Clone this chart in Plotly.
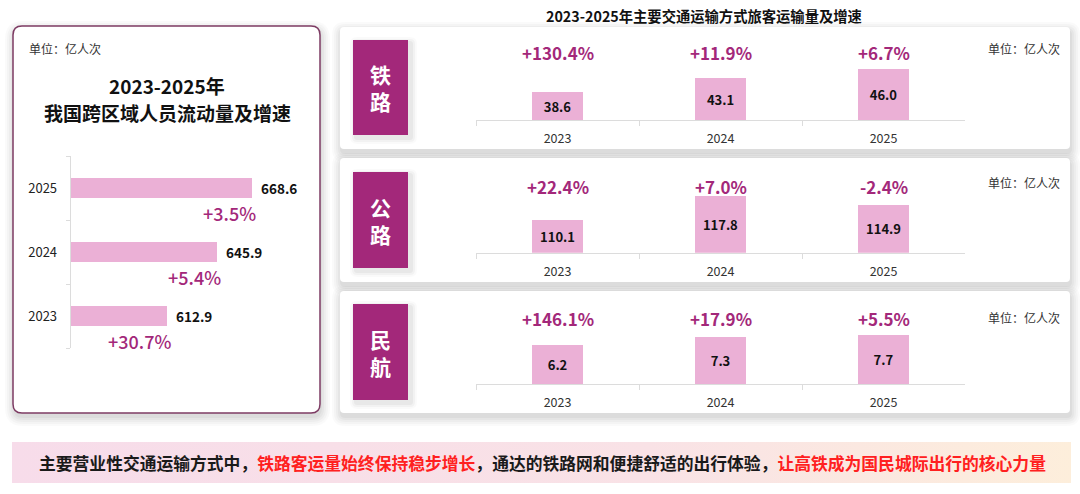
import plotly.graph_objects as go

W, H = 1080, 494
FONT = "Noto Sans CJK SC"

# 左侧：跨区域人员流动量
years = ["2023", "2024", "2025"]
total_flow = [612.9, 645.9, 668.6]
total_growth = ["+30.7%", "+5.4%", "+3.5%"]

# 右侧：主要交通运输方式
modes = ["铁<br>路", "公<br>路", "民<br>航"]
rail_volume = [38.6, 43.1, 46.0]
rail_growth = ["+130.4%", "+11.9%", "+6.7%"]
road_volume = [110.1, 117.8, 114.9]
road_growth = ["+22.4%", "+7.0%", "-2.4%"]
air_volume = [6.2, 7.3, 7.7]
air_growth = ["+146.1%", "+17.9%", "+5.5%"]

unit_text = "单位：亿人次"
left_title = ["2023-2025年", "我国跨区域人员流动量及增速"]
right_title = "<b>2023-2025年主要交通运输方式旅客运输量及增速</b>"
summary = ("<b>主要营业性交通运输方式中，<span style='color:#ff2020'>铁路客运量始终保持稳步增长</span>，"
           "通达的铁路网和便捷舒适的出行体验，<span style='color:#ff2020'>让高铁成为国民城际出行的核心力量</span></b>")

PINK = "#ebb0d6"
MAGENTA = "#a3287a"


def px(x):
    return x / W


def py(y):
    return 1 - y / H


def rrect(x0, y0, x1, y1, r):
    # 像素坐标的圆角矩形 -> paper 路径
    p = lambda x, y: f"{px(x):.5f},{py(y):.5f}"
    return (f"M{p(x0 + r, y0)} L{p(x1 - r, y0)} Q{p(x1, y0)} {p(x1, y0 + r)} "
            f"L{p(x1, y1 - r)} Q{p(x1, y1)} {p(x1 - r, y1)} L{p(x0 + r, y1)} "
            f"Q{p(x0, y1)} {p(x0, y1 - r)} L{p(x0, y0 + r)} Q{p(x0, y0)} {p(x0 + r, y0)} Z")


shapes = []
annotations = []


def card(x0, y0, x1, y1, r, line=None, fill="white"):
    for d, a in [(9, 0.018), (7, 0.022), (5, 0.026), (3, 0.03), (1, 0.035)]:
        shapes.append(dict(type="path", xref="paper", yref="paper", layer="below",
                           path=rrect(x0 - d + 1, y0 - d + 4, x1 + d + 1, y1 + d + 4, r + d),
                           fillcolor=f"rgba(0,0,0,{a})", line=dict(width=0)))
    shapes.append(dict(type="path", xref="paper", yref="paper", layer="below",
                       path=rrect(x0, y0, x1, y1, r), fillcolor=fill,
                       line=dict(color=line or fill, width=1.5 if line else 0)))


fig = go.Figure()

# ---------- 左侧卡片 ----------
card(13, 26, 320, 413, 9, line="#7d3b63")
annotations.append(dict(text=unit_text, x=px(27), y=py(49), xref="paper", yref="paper",
                        xanchor="left", yanchor="middle", showarrow=False,
                        font=dict(size=12, color="#333")))
for line_y, line_text in zip([86, 112], left_title):
    annotations.append(dict(text=f"<b>{line_text}</b>", x=px(167), y=py(line_y),
                            xref="paper", yref="paper", xanchor="center", yanchor="middle",
                            showarrow=False, font=dict(size=19, color="#111")))

fig.add_trace(go.Bar(
    y=years, x=total_flow, orientation="h", width=0.31,
    marker=dict(color=PINK, line=dict(width=0)),
    xaxis="x", yaxis="y", hoverinfo="skip",
))
for i, (v, g) in enumerate(zip(total_flow, total_growth)):
    annotations.append(dict(text=f"<b>{v:.1f}</b>", x=v, y=i, xref="x", yref="y",
                            xanchor="left", yanchor="middle", xshift=7,
                            showarrow=False, font=dict(size=13.5, color="#111")))
    annotations.append(dict(text=g, x=v, y=i, xref="x", yref="y",
                            xanchor="right", yanchor="middle", xshift=6, yshift=-25,
                            showarrow=False, font=dict(size=18, color=MAGENTA, weight=500)))

# ---------- 右侧 ----------
annotations.append(dict(text=right_title, x=px(704), y=py(15), xref="paper", yref="paper",
                        xanchor="center", yanchor="middle", showarrow=False,
                        font=dict(size=14.3, color="#111")))

panels = [
    # 卡片 y0, y1, 标签块 y0, y1, 基线, 轴起点, 每单位像素, 数值, 增速, 增速行 y, 单位行 y
    (27, 149, 40, 135, 120, 29.6, 3.1, rail_volume, rail_growth, 53, 48),
    (158, 282, 172, 268, 252.7, 99.85, 3.19, road_volume, road_growth, 186, 182),
    (291, 413, 304, 400, 384.3, 0.3, 6.67, air_volume, air_growth, 318, 317),
]

for i, (cy0, cy1, ly0, ly1, base, rmin, k, vals, grow, gy, uy) in enumerate(panels):
    n = i + 2
    card(340, cy0, 1070, cy1, 4)
    # 左侧标签块（带柔和阴影）
    for d, a in [(6, 0.02), (4, 0.03), (2, 0.04)]:
        shapes.append(dict(type="path", xref="paper", yref="paper", layer="below",
                           path=rrect(353 - d + 3, ly0 - d + 3, 408 + d + 3, ly1 + d + 3, d + 1),
                           fillcolor=f"rgba(0,0,0,{a})", line=dict(width=0)))
    shapes.append(dict(type="rect", xref="paper", yref="paper", layer="below",
                       x0=px(353), x1=px(408), y0=py(ly1), y1=py(ly0),
                       fillcolor=MAGENTA, line=dict(width=0)))
    annotations.append(dict(text=f"<b>{modes[i]}</b>", x=px(380.5), y=py((ly0 + ly1) / 2),
                            xref="paper", yref="paper", xanchor="center", yanchor="middle",
                            showarrow=False, font=dict(size=21, color="white")))
    annotations.append(dict(text=unit_text, x=px(1062), y=py(uy), xref="paper", yref="paper",
                            xanchor="right", yanchor="middle", showarrow=False,
                            font=dict(size=12, color="#333")))

    top = base - 80
    fig.add_trace(go.Bar(
        x=years, y=[v - rmin for v in vals], base=rmin, width=0.31,
        marker=dict(color=PINK, line=dict(width=0)),
        text=[f"<b>{v:.1f}</b>" for v in vals], textposition="inside",
        insidetextanchor="middle", textangle=0, constraintext="none",
        textfont=dict(size=13, color="#111"),
        xaxis=f"x{n}", yaxis=f"y{n}", hoverinfo="skip",
    ))
    for j, g in enumerate(grow):
        annotations.append(dict(text=f"<b>{g}</b>", x=j, y=py(gy), xref=f"x{n}", yref="paper",
                                xanchor="center", yanchor="middle", showarrow=False,
                                font=dict(size=17, color=MAGENTA)))
    fig.layout[f"xaxis{n}"] = dict(
        domain=[px(476), px(965)], anchor=f"y{n}", type="category", range=[-0.5, 2.5],
        showline=True, linecolor="#dcdcdc", linewidth=1, ticks="outside", ticklen=5,
        tickcolor="#dcdcdc", tickson="boundaries", showgrid=False, zeroline=False,
        ticklabelstandoff=7, tickfont=dict(size=12.5, color="#333", family=FONT),
        fixedrange=True,
    )
    fig.layout[f"yaxis{n}"] = dict(
        domain=[py(base), py(top)], anchor=f"x{n}", range=[rmin, rmin + 80 / k],
        visible=False, fixedrange=True,
    )

# ---------- 底部结论条 ----------
fig.add_trace(go.Scatter(
    x=[12, 1071, 1071, 12, 12], y=[442, 442, 483, 483, 442], mode="lines",
    fill="toself", line=dict(width=0),
    fillgradient=dict(type="horizontal", colorscale=[[0, "#f7dcea"], [0.6, "#f9e2e6"], [1, "#fdeedb"]]),
    xaxis="x5", yaxis="y5", hoverinfo="skip", showlegend=False,
))
annotations.append(dict(text=summary, x=px(542), y=py(463), xref="paper", yref="paper",
                        xanchor="center", yanchor="middle", showarrow=False,
                        font=dict(size=16.8, color="#1a1a1a")))

fig.update_layout(
    width=W, height=H, margin=dict(l=0, r=0, t=0, b=0),
    paper_bgcolor="white", plot_bgcolor="rgba(0,0,0,0)",
    font=dict(family=FONT, color="#222"), showlegend=False, bargap=0,
    shapes=shapes, annotations=annotations,
    xaxis=dict(domain=[px(70.7), px(300)], anchor="y", range=[550.2, 700], visible=False,
               fixedrange=True),
    yaxis=dict(domain=[py(348), py(156)], anchor="x", type="category", range=[-0.5, 2.5],
               showline=True, linecolor="#dcdcdc", linewidth=1, ticks="outside", ticklen=4,
               tickcolor="#dcdcdc", tickson="boundaries", showgrid=False, zeroline=False,
               ticklabelstandoff=10, tickfont=dict(size=13, color="#222", family=FONT),
               fixedrange=True),
    xaxis5=dict(domain=[0, 1], range=[0, W], visible=False, fixedrange=True),
    yaxis5=dict(domain=[0, 1], range=[H, 0], visible=False, fixedrange=True),
)

fig.write_html("out.html", config={"displayModeBar": False},
               post_script="document.body.style.margin='0';")
